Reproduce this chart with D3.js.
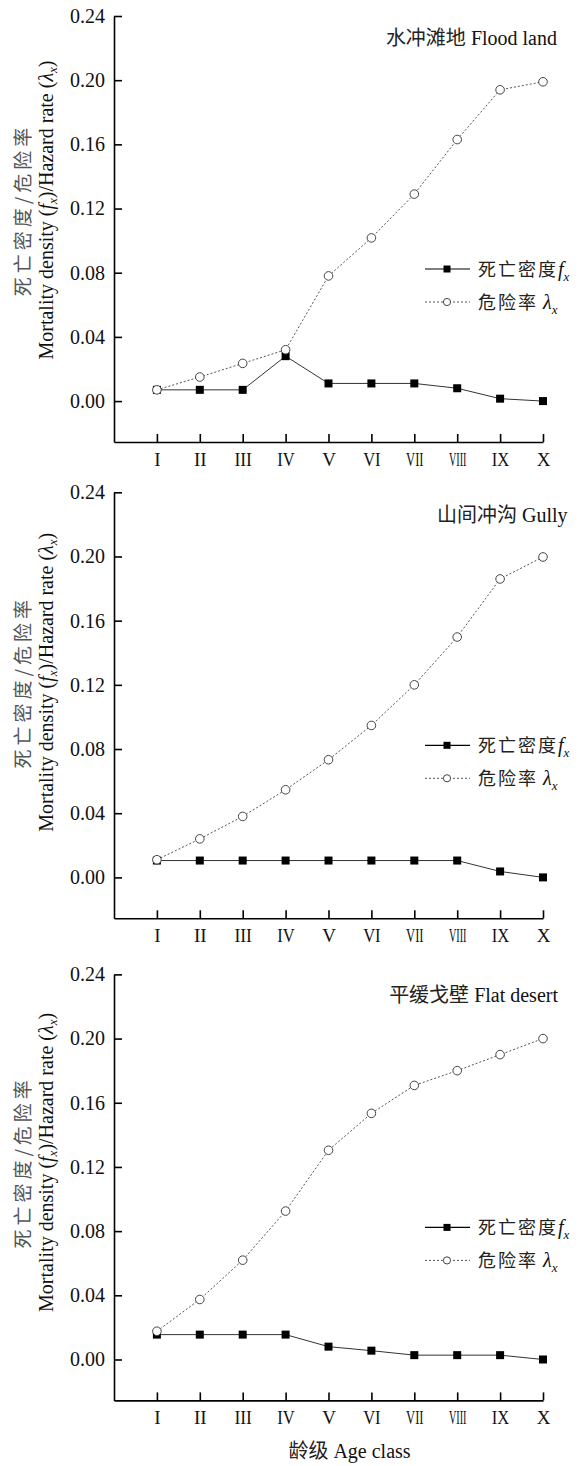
<!DOCTYPE html>
<html>
<head>
<meta charset="utf-8">
<script src="https://cdn.jsdelivr.net/npm/d3@7"></script>
<style>
  html, body { margin: 0; padding: 0; background: #fff; }
  svg { display: block; }
</style>
</head>
<body>
<svg id="chart" width="586" height="1466"></svg>
<script>
// ---------------- data ----------------
const categories = ["I","II","III","IV","V","VI","VII","VIII","IX","X"];
const yTicks = [0.00, 0.04, 0.08, 0.12, 0.16, 0.20, 0.24];

const floodDensity  = [0.007, 0.007, 0.007, 0.028, 0.011, 0.011, 0.011, 0.008, 0.0015, 0.000];
const floodHazard   = [0.007, 0.015, 0.0235, 0.032, 0.078, 0.1017, 0.129, 0.163, 0.194, 0.199];

const gullyDensity  = [0.0105, 0.0105, 0.0105, 0.0105, 0.0105, 0.0105, 0.0105, 0.0105, 0.0037, 0.000];
const gullyHazard   = [0.011, 0.024, 0.038, 0.0546, 0.0733, 0.0947, 0.120, 0.1498, 0.186, 0.1997];

const desertDensity = [0.0155, 0.0155, 0.0155, 0.0155, 0.008, 0.0055, 0.0027, 0.0027, 0.0027, 0.000];
const desertHazard  = [0.0176, 0.0374, 0.0619, 0.0925, 0.1304, 0.1534, 0.1708, 0.180, 0.190, 0.200];

const titlesZh = ["水冲滩地", "山间冲沟", "平缓戈壁"];
const titlesEn = ["Flood land", "Gully", "Flat desert"];
const legendZh = ["死亡密度", "危险率"];
const yLabelZh = "死亡密度/危险率";
const xLabelZh = "龄级";
const xLabelEn = "Age class";

// ---------------- layout ----------------
const serif = "'Liberation Serif', 'Times New Roman', serif";
const cjk = "'Noto Sans CJK SC', 'Noto Sans CJK JP', sans-serif";
const panels = [
  { top: 16,    f: floodDensity,  h: floodHazard,  titleEnd: 557,   titleDy: 29,   ylabC: 194 },
  { top: 492.3, f: gullyDensity,  h: gullyHazard,  titleEnd: 567.5, titleDy: 29.5, ylabC: 190 },
  { top: 974.4, f: desertDensity, h: desertHazard, titleEnd: 558,   titleDy: 27.5, ylabC: 188 }
];
const panelH = 426;
const xLeft = 114, xRight = 543;

const svg = d3.select("#chart");
svg.append("rect").attr("width", 586).attr("height", 1466).attr("fill", "#fff");

const x = d3.scaleLinear().domain([0, 10]).range([xLeft, xRight]);

panels.forEach((p, pi) => {
  const y = d3.scaleLinear().domain([-0.0255, 0.24]).range([p.top + panelH, p.top]);
  const g = svg.append("g");

  // y axis
  const ya = g.append("g").attr("transform", `translate(${xLeft},0)`)
    .call(d3.axisLeft(y).tickValues(yTicks).tickSize(-8).tickSizeOuter(0)
      .tickPadding(9).tickFormat(d3.format(".2f")));
  ya.attr("font-family", serif).attr("font-size", 20);
  ya.selectAll("path, line").attr("stroke", "#000").attr("stroke-width", 1.6);
  ya.selectAll("text").attr("fill", "#111");

  // x axis
  const xa = g.append("g").attr("transform", `translate(0,${p.top + panelH})`)
    .call(d3.axisBottom(x).tickValues(d3.range(1, 11)).tickSize(-8).tickSizeOuter(0)
      .tickPadding(10.5).tickFormat(i => categories[i - 1]));
  xa.attr("font-family", serif).attr("font-size", 19);
  xa.selectAll("path, line").attr("stroke", "#000").attr("stroke-width", 1.6);
  xa.selectAll("text").attr("fill", "#111").each(function() {
    const w = this.getComputedTextLength();
    if (w > 17.5) d3.select(this).attr("textLength", 17.5).attr("lengthAdjust", "spacingAndGlyphs");
  });

  // density line (solid, squares)
  const line = d3.line().x((d, i) => x(i + 1)).y(d => y(d));
  g.append("path").datum(p.f).attr("d", line)
    .attr("fill", "none").attr("stroke", "#333").attr("stroke-width", 1);
  g.selectAll(".sq").data(p.f).join("rect")
    .attr("x", (d, i) => x(i + 1) - 4).attr("y", d => y(d) - 4)
    .attr("width", 8).attr("height", 8).attr("fill", "#000");

  // hazard line (dotted, open circles)
  g.append("path").datum(p.h).attr("d", line)
    .attr("fill", "none").attr("stroke", "#555").attr("stroke-width", 1)
    .attr("stroke-dasharray", "2,2");
  g.selectAll(".ci").data(p.h).join("circle")
    .attr("cx", (d, i) => x(i + 1)).attr("cy", d => y(d)).attr("r", 4.3)
    .attr("fill", "#fff").attr("stroke", "#444").attr("stroke-width", 1);

  // title
  const t = g.append("text").attr("x", p.titleEnd).attr("y", p.top + p.titleDy)
    .attr("text-anchor", "end").attr("font-size", 20).attr("fill", "#111");
  t.append("tspan").attr("font-family", cjk).attr("fill", "#222").text(titlesZh[pi]);
  t.append("tspan").attr("font-family", serif).text(" " + titlesEn[pi]);

  // legend
  const ly1 = p.top + 253, ly2 = p.top + 286;
  g.append("line").attr("x1", 425).attr("x2", 470).attr("y1", ly1).attr("y2", ly1)
    .attr("stroke", "#000").attr("stroke-width", 1.2);
  g.append("rect").attr("x", 447 - 3.5).attr("y", ly1 - 3.5).attr("width", 7).attr("height", 7).attr("fill", "#000");
  g.append("line").attr("x1", 425).attr("x2", 470).attr("y1", ly2).attr("y2", ly2)
    .attr("stroke", "#555").attr("stroke-width", 1).attr("stroke-dasharray", "2,2");
  g.append("circle").attr("cx", 447).attr("cy", ly2).attr("r", 3.6)
    .attr("fill", "#fff").attr("stroke", "#444").attr("stroke-width", 1);

  const l1 = g.append("text").attr("x", 478).attr("y", ly1 + 7).attr("fill", "#111");
  l1.append("tspan").attr("font-family", cjk).attr("font-size", 18).attr("letter-spacing", 2)
    .attr("fill", "#222").text(legendZh[0]);
  l1.append("tspan").attr("font-family", serif).attr("font-size", 20).attr("font-style", "italic").text("f");
  l1.append("tspan").attr("font-family", serif).attr("font-size", 13).attr("font-style", "italic")
    .attr("dy", 5).text("x");

  const l2 = g.append("text").attr("x", 478).attr("y", ly2 + 7).attr("fill", "#111");
  l2.append("tspan").attr("font-family", cjk).attr("font-size", 18).attr("letter-spacing", 2)
    .attr("fill", "#222").text(legendZh[1]);
  l2.append("tspan").attr("font-family", serif).attr("font-size", 20).attr("font-style", "italic").text(" λ");
  l2.append("tspan").attr("font-family", serif).attr("font-size", 13).attr("font-style", "italic")
    .attr("dy", 5).text("x");

  // y labels (rotated)
  const cy = p.top + p.ylabC;
  g.append("text").attr("transform", `translate(30,${cy}) rotate(-90)`)
    .attr("text-anchor", "middle").attr("font-family", cjk).attr("font-size", 19)
    .attr("letter-spacing", 4).attr("fill", "#555").text(yLabelZh);

  const yl = g.append("text").attr("transform", `translate(52.5,${cy}) rotate(-90)`)
    .attr("text-anchor", "middle").attr("font-family", serif).attr("font-size", 20).attr("fill", "#111");
  yl.append("tspan").text("Mortality density (");
  yl.append("tspan").attr("font-style", "italic").text("f");
  yl.append("tspan").attr("font-style", "italic").attr("font-size", 13).attr("dy", 4).text("x");
  yl.append("tspan").attr("dy", -4).text(")/Hazard rate (");
  yl.append("tspan").attr("font-style", "italic").text("λ");
  yl.append("tspan").attr("font-style", "italic").attr("font-size", 13).attr("dy", 4).text("x");
  yl.append("tspan").attr("dy", -4).text(")");
});

// x label
const xl = svg.append("text").attr("x", 349.5).attr("y", 1458).attr("text-anchor", "middle")
  .attr("font-size", 20).attr("fill", "#111");
xl.append("tspan").attr("font-family", cjk).attr("fill", "#222").text(xLabelZh);
xl.append("tspan").attr("font-family", serif).text(" " + xLabelEn);
</script>
</body>
</html>
